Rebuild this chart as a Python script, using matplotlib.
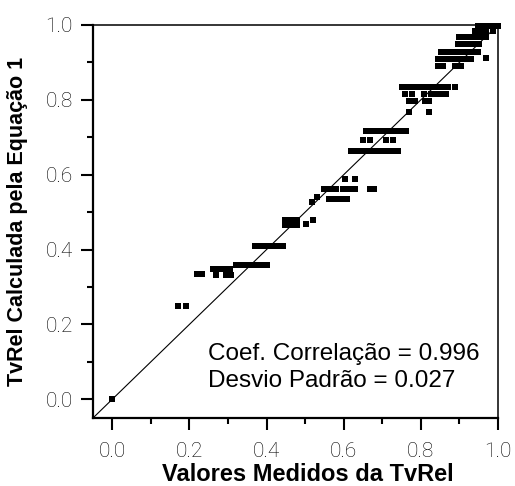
import matplotlib
matplotlib.use("Agg")
import matplotlib.pyplot as plt
from matplotlib.ticker import MultipleLocator

tvrel_medido = [
    0.0,
    0.17, 0.19,
    0.22, 0.232, 0.269, 0.295, 0.308,
    0.26, 0.275, 0.29, 0.305,
    0.321, 0.335, 0.35, 0.365, 0.38, 0.395, 0.401,
    0.37, 0.385, 0.40, 0.415, 0.43, 0.442,
    0.448, 0.463, 0.479,
    0.448, 0.463, 0.479,
    0.502, 0.52,
    0.518, 0.53,
    0.562, 0.577, 0.592, 0.608,
    0.549, 0.565, 0.58, 0.597, 0.613, 0.629, 0.668, 0.678,
    0.603, 0.628,
    0.619, 0.635, 0.65, 0.665, 0.68, 0.695, 0.71, 0.725, 0.74,
    0.65, 0.667, 0.71, 0.727,
    0.657, 0.672, 0.687, 0.702, 0.717, 0.732, 0.747, 0.761,
    0.77, 0.82,
    0.77, 0.785, 0.81, 0.822,
    0.76, 0.778, 0.808, 0.825, 0.84, 0.855, 0.865,
    0.75, 0.765, 0.78, 0.795, 0.81, 0.825, 0.84, 0.855, 0.87, 0.888,
    0.844, 0.858, 0.888, 0.904,
    0.844, 0.86, 0.875, 0.89, 0.905, 0.92, 0.93,
    0.968,
    0.852, 0.867, 0.882, 0.897, 0.912, 0.927, 0.94, 0.948,
    0.896, 0.91, 0.925, 0.94, 0.951,
    0.9, 0.915, 0.93, 0.945, 0.96, 0.97,
    0.94, 0.955, 0.97, 0.986,
    0.948, 0.963, 0.978, 0.99, 1.0,
]
tvrel_calculado = [
    0.0,
    0.25, 0.25,
    0.335, 0.335, 0.333, 0.333, 0.333,
    0.348, 0.348, 0.348, 0.348,
    0.359, 0.359, 0.359, 0.359, 0.359, 0.359, 0.359,
    0.409, 0.409, 0.409, 0.409, 0.409, 0.409,
    0.465, 0.465, 0.465,
    0.48, 0.48, 0.48,
    0.469, 0.479,
    0.528, 0.54,
    0.536, 0.536, 0.536, 0.536,
    0.563, 0.563, 0.563, 0.563, 0.563, 0.563, 0.563, 0.563,
    0.589, 0.589,
    0.662, 0.662, 0.662, 0.662, 0.662, 0.662, 0.662, 0.662, 0.662,
    0.693, 0.693, 0.693, 0.693,
    0.717, 0.717, 0.717, 0.717, 0.717, 0.717, 0.717, 0.717,
    0.767, 0.767,
    0.797, 0.797, 0.797, 0.797,
    0.815, 0.815, 0.815, 0.815, 0.815, 0.815, 0.815,
    0.833, 0.833, 0.833, 0.833, 0.833, 0.833, 0.833, 0.833, 0.833, 0.833,
    0.89, 0.89, 0.89, 0.89,
    0.909, 0.909, 0.909, 0.909, 0.909, 0.909, 0.909,
    0.912,
    0.928, 0.928, 0.928, 0.928, 0.928, 0.928, 0.928, 0.928,
    0.949, 0.949, 0.949, 0.949, 0.949,
    0.967, 0.967, 0.967, 0.967, 0.967, 0.967,
    0.983, 0.983, 0.983, 0.983,
    0.997, 0.997, 0.997, 0.997, 0.997,
]
ticks = [0.0, 0.2, 0.4, 0.6, 0.8, 1.0]
tick_labels = ["0.0", "0.2", "0.4", "0.6", "0.8", "1.0"]
coef_text = "Coef. Correlação = 0.996"
desvio_text = "Desvio Padrão = 0.027"

fig = plt.figure(figsize=(5.15, 4.86), dpi=100)
ax = fig.add_axes([0.1806, 0.14, 0.967 - 0.1806, 0.9486 - 0.14])

# 1:1 line
ax.plot([-0.05, 1.0], [-0.05, 1.0], color="black", lw=0.8)
ax.plot(tvrel_medido, tvrel_calculado, linestyle="none", marker="s",
        markersize=5, mew=0, color="black", clip_on=False)

ax.set_xlim(-0.05, 1.0)
ax.set_ylim(-0.05, 1.0)
ax.set_xticks(ticks)
ax.set_yticks(ticks)
ax.xaxis.set_minor_locator(MultipleLocator(0.1))
ax.yaxis.set_minor_locator(MultipleLocator(0.1))

tick_font = dict(family="Roboto", weight="light", size=15, color="black")
ax.set_xticklabels(tick_labels, fontdict=tick_font)
ax.set_yticklabels(tick_labels, fontdict=tick_font)
ax.tick_params(axis="x", which="major", pad=9)
ax.tick_params(axis="y", which="major", pad=6)
ax.tick_params(which="major", direction="out", length=8.6, width=1.5, color="black")
ax.tick_params(which="minor", direction="out", length=4.3, width=1.5, color="black")

for side in ["left", "bottom"]:
    ax.spines[side].set_linewidth(1.6)
for side in ["top", "right"]:
    ax.spines[side].set_linewidth(1.1)

ax.set_xlabel("Valores Medidos da TvRel", family="Liberation Sans", weight="bold", size=17)
ax.set_ylabel("TvRel Calculada pela Equação 1", family="Liberation Sans", weight="bold", size=15.5)
ax.xaxis.set_label_coords(0.53, -0.115)
ax.yaxis.set_label_coords(-0.16, 0.5)

ax.text(0.247, 0.104, coef_text, family="Liberation Sans", size=17.5,
        va="baseline", ha="left")
ax.text(0.247, 0.032, desvio_text, family="Liberation Sans", size=17.5,
        va="baseline", ha="left")

fig.savefig("out.png", dpi=100)
